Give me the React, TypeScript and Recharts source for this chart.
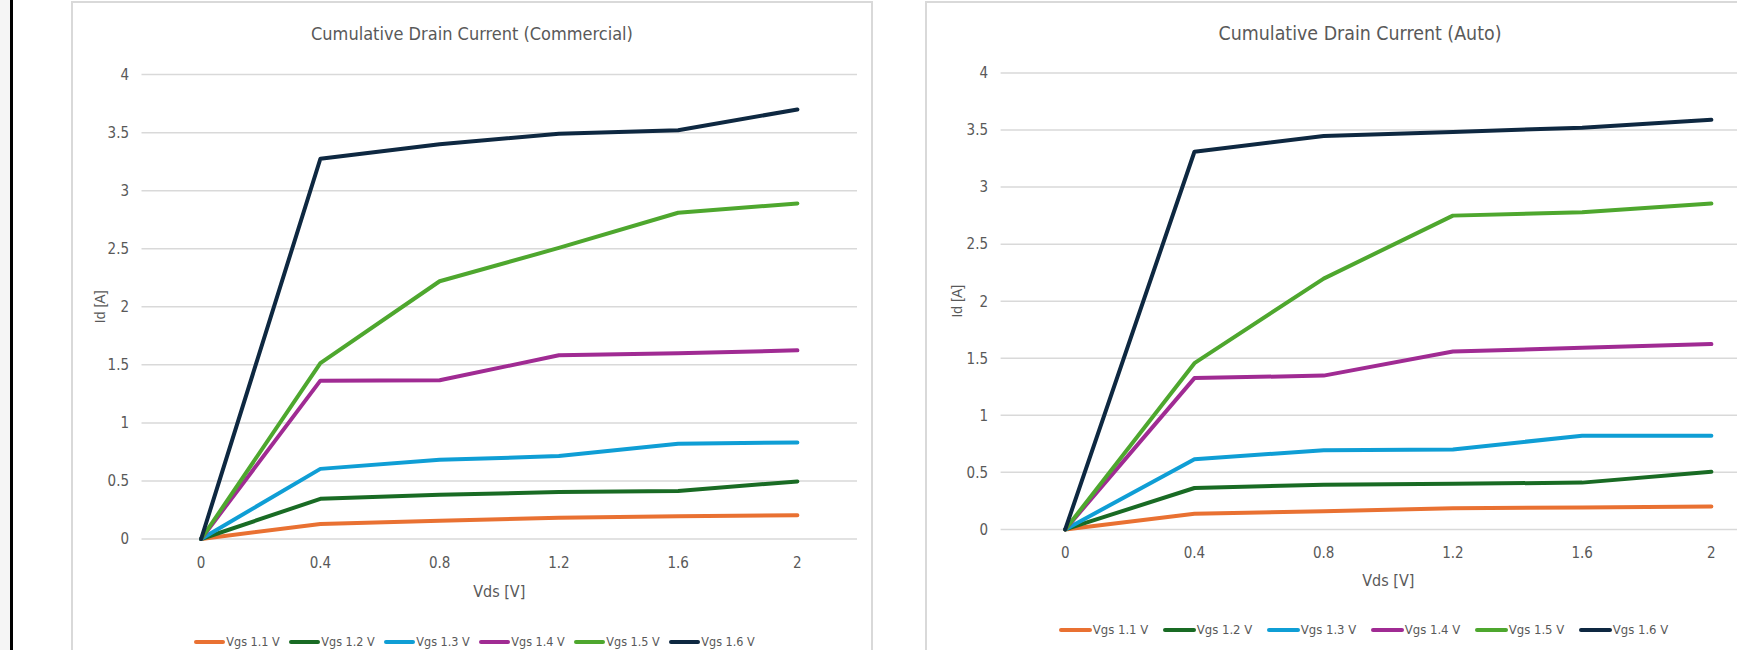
import { LineChart, Line, XAxis, YAxis, CartesianGrid, Legend, Label } from "recharts";

// Vds sweep points (category axis)
const vds = ["0", "0.4", "0.8", "1.2", "1.6", "2"];
const yTicks = [0, 0.5, 1, 1.5, 2, 2.5, 3, 3.5, 4];

const seriesNames = ["Vgs 1.1 V", "Vgs 1.2 V", "Vgs 1.3 V", "Vgs 1.4 V", "Vgs 1.5 V", "Vgs 1.6 V"];
const seriesColors = ["#E97132", "#196B24", "#0F9ED5", "#A02B93", "#4EA72E", "#0E2841"];

// Commercial part, Id [A]
const comm11 = [0, 0.13, 0.157, 0.182, 0.196, 0.204];
const comm12 = [0, 0.346, 0.382, 0.404, 0.414, 0.496];
const comm13 = [0, 0.604, 0.682, 0.714, 0.82, 0.832];
const comm14 = [0, 1.364, 1.368, 1.582, 1.6, 1.625];
const comm15 = [0, 1.514, 2.22, 2.507, 2.81, 2.89];
const comm16 = [0, 3.275, 3.4, 3.49, 3.52, 3.7];

// Auto part, Id [A]
const auto11 = [0, 0.138, 0.16, 0.185, 0.193, 0.2];
const auto12 = [0, 0.363, 0.392, 0.4, 0.41, 0.505];
const auto13 = [0, 0.614, 0.694, 0.701, 0.821, 0.821];
const auto14 = [0, 1.326, 1.348, 1.559, 1.591, 1.624];
const auto15 = [0, 1.457, 2.198, 2.75, 2.78, 2.856];
const auto16 = [0, 3.31, 3.448, 3.484, 3.52, 3.59];

const buildRows = (series: number[][]) =>
  vds.map((v, i) => {
    const row: Record<string, string | number> = { vds: v };
    series.forEach((s, k) => {
      row[seriesNames[k]] = s[i];
    });
    return row;
  });

const commercialRows = buildRows([comm11, comm12, comm13, comm14, comm15, comm16]);
const autoRows = buildRows([auto11, auto12, auto13, auto14, auto15, auto16]);

const NARROW = "'Liberation Sans Narrow', 'DejaVu Sans Condensed', 'Roboto', sans-serif";
const REGULAR = "'Liberation Sans', Arial, sans-serif";
const TEXT = "#595959";
const GRID = "#d9d9d9";

interface PanelProps {
  title: string;
  titleSize: number;
  rows: Record<string, string | number>[];
  left: number;
  width: number;
  plotLeft: number;
  plotRight: number;
  plotTop: number;
  plotBottom: number;
  xTitleY: number;
  xTickY: number;
  yTickGap: number;
  legendY: number;
  legendIcon: number;
  legendPitch: number;
  legendFont: number;
  legendShift: number;
}

const Panel = (p: PanelProps) => {
  const height = 660;
  const xAxisHeight = (p.xTitleY - p.plotBottom) * 2;
  const band = (p.plotRight - p.plotLeft) / vds.length;

  const renderLegend = (props: any) => {
    const items = props.payload || [];
    return (
      <div
        style={{
          display: "flex",
          justifyContent: "center",
          paddingLeft: p.legendShift * 2,
          fontFamily: NARROW,
          fontSize: p.legendFont,
          color: TEXT,
          lineHeight: "18px",
          whiteSpace: "nowrap",
        }}
      >
        {items.map((entry: any, i: number) => (
          <span
            key={entry.value}
            style={{
              display: "inline-flex",
              alignItems: "center",
              width: i < items.length - 1 ? p.legendPitch : undefined,
            }}
          >
            <svg width={p.legendIcon} height={8}>
              <line x1={2} y1={4} x2={p.legendIcon - 2} y2={4} stroke={entry.color} strokeWidth={4} strokeLinecap="round" />
            </svg>
            <span style={{ marginLeft: 1 }}>{entry.value}</span>
          </span>
        ))}
      </div>
    );
  };

  return (
    <div style={{ position: "absolute", left: p.left, top: 0, width: p.width, height }}>
      <div
        style={{
          position: "absolute",
          left: 0,
          top: 1,
          width: p.width,
          height: height,
          boxSizing: "border-box",
          border: `2px solid ${GRID}`,
        }}
      />
      <div
        style={{
          position: "absolute",
          left: 0,
          top: 22,
          width: p.width,
          textAlign: "center",
          fontFamily: NARROW,
          fontSize: p.titleSize,
          lineHeight: "24px",
          color: TEXT,
        }}
      >
        {p.title}
      </div>
      <div style={{ position: "absolute", left: 0, top: 0 }}>
        <LineChart
          width={p.width}
          height={height}
          data={p.rows}
          margin={{
            top: p.plotTop,
            left: 0,
            right: p.width - p.plotRight,
            bottom: height - p.plotBottom - xAxisHeight,
          }}
        >
          <CartesianGrid vertical={false} stroke={GRID} strokeWidth={1.5} />
          <XAxis
            dataKey="vds"
            height={xAxisHeight}
            padding={{ left: band / 2, right: band / 2 }}
            axisLine={false}
            tickLine={false}
            tickSize={0}
            tickMargin={p.xTickY - p.plotBottom - 5}
            tick={{ fill: TEXT, fontSize: 15, fontFamily: NARROW }}
          >
            <Label value="Vds [V]" position="center" fill={TEXT} fontSize={16} fontFamily={NARROW} />
          </XAxis>
          <YAxis
            type="number"
            domain={[0, 4]}
            ticks={yTicks}
            width={p.plotLeft}
            axisLine={false}
            tickLine={false}
            tickSize={0}
            tickMargin={p.yTickGap}
            tick={{ fill: TEXT, fontSize: 15, fontFamily: NARROW }}
          >
            <Label value="Id [A]" position="center" angle={-90} dx={-6} fill={TEXT} fontSize={14} fontFamily={REGULAR} />
          </YAxis>
          <Legend
            verticalAlign="middle"
            align="center"
            layout="horizontal"
            content={renderLegend}
            wrapperStyle={{ top: p.legendY - 9, left: 0, width: p.width }}
          />
          {seriesNames.map((name, k) => (
            <Line
              key={name}
              type="linear"
              dataKey={name}
              stroke={seriesColors[k]}
              strokeWidth={4}
              strokeLinejoin="round"
              strokeLinecap="round"
              dot={false}
              activeDot={false}
              isAnimationActive={false}
            />
          ))}
        </LineChart>
      </div>
    </div>
  );
};

export default function App() {
  return (
    <div style={{ position: "fixed", left: 0, top: 0, width: 1737, height: 650, overflow: "hidden", background: "#ffffff" }}>
      <div style={{ position: "absolute", left: 0, top: 0, width: 10, height: 650, background: "#f5f5f5" }} />
      <div style={{ position: "absolute", left: 10, top: 0, width: 2.5, height: 650, background: "#000000" }} />
      <Panel
        title="Cumulative Drain Current (Commercial)"
        titleSize={18}
        rows={commercialRows}
        left={71}
        width={802}
        plotLeft={70.5}
        plotRight={786}
        plotTop={74.6}
        plotBottom={539}
        xTitleY={591}
        xTickY={562}
        yTickGap={12.5}
        legendY={642}
        legendIcon={31}
        legendPitch={95}
        legendFont={12.5}
        legendShift={2.5}
      />
      <Panel
        title="Cumulative Drain Current (Auto)"
        titleSize={19.4}
        rows={autoRows}
        left={925}
        width={870}
        plotLeft={75.6}
        plotRight={851}
        plotTop={73}
        plotBottom={529.4}
        xTitleY={580}
        xTickY={552}
        yTickGap={12.6}
        legendY={630}
        legendIcon={33}
        legendPitch={104}
        legendFont={13}
        legendShift={3.5}
      />
    </div>
  );
}
